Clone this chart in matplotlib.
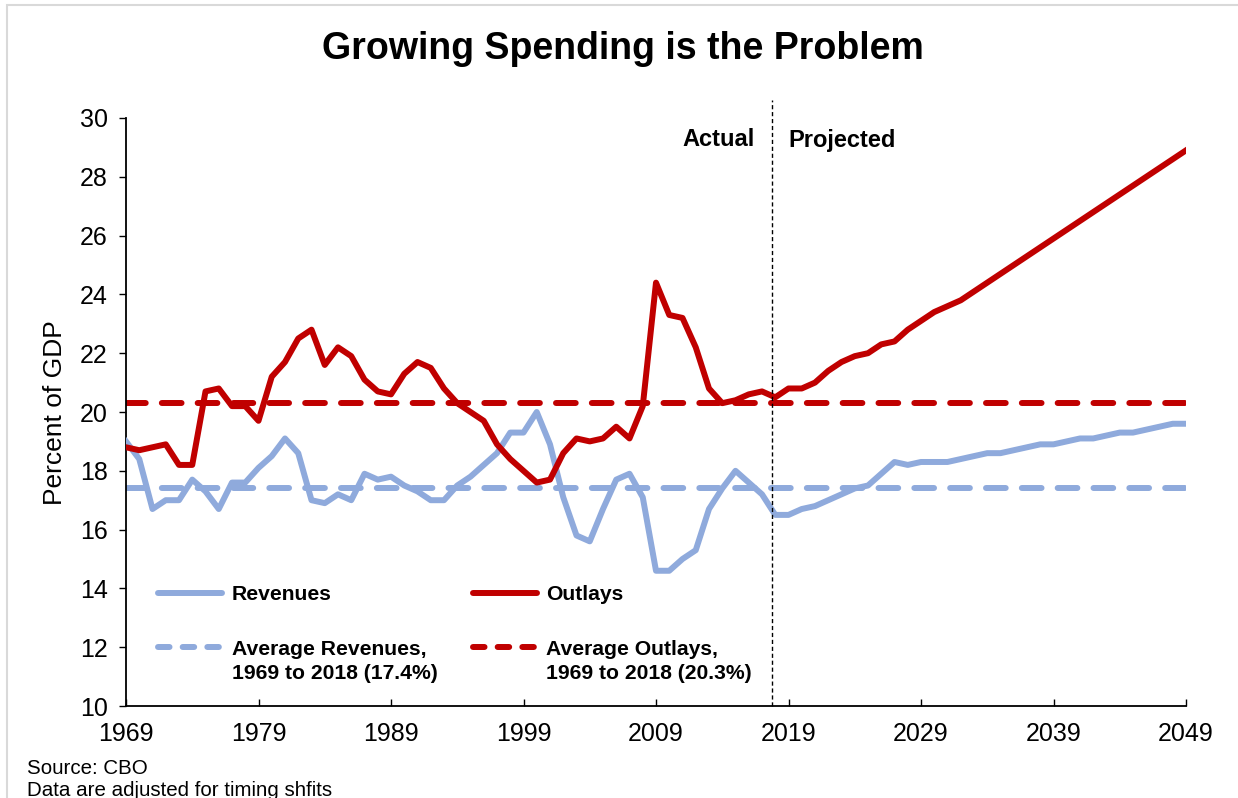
import matplotlib
matplotlib.use("Agg")
import matplotlib.pyplot as plt
from matplotlib.lines import Line2D
from matplotlib.patches import Rectangle
import numpy as np

plt.rcParams['font.family'] = ['Liberation Sans', 'DejaVu Sans']

# Fiscal years shown on the axis
years = np.arange(1969, 2050)

# Federal revenues, percent of GDP (actual 1969-2018, projected 2019-2049)
revenues = [
    19.0, 18.4, 16.7, 17.0, 17.0, 17.7, 17.3, 16.7, 17.6, 17.6,
    18.1, 18.5, 19.1, 18.6, 17.0, 16.9, 17.2, 17.0, 17.9, 17.7,
    17.8, 17.5, 17.3, 17.0, 17.0, 17.5, 17.8, 18.2, 18.6, 19.3,
    19.3, 20.0, 18.9, 17.1, 15.8, 15.6, 16.7, 17.7, 17.9, 17.1,
    14.6, 14.6, 15.0, 15.3, 16.7, 17.4, 18.0, 17.6, 17.2, 16.5,
    16.5, 16.7, 16.8, 17.0, 17.2, 17.4, 17.5, 17.9, 18.3, 18.2,
    18.3, 18.3, 18.3, 18.4, 18.5, 18.6, 18.6, 18.7, 18.8, 18.9,
    18.9, 19.0, 19.1, 19.1, 19.2, 19.3, 19.3, 19.4, 19.5, 19.6,
    19.6,
]

# Federal outlays, percent of GDP (actual 1969-2018, projected 2019-2049)
outlays = [
    18.8, 18.7, 18.8, 18.9, 18.2, 18.2, 20.7, 20.8, 20.2, 20.2,
    19.7, 21.2, 21.7, 22.5, 22.8, 21.6, 22.2, 21.9, 21.1, 20.7,
    20.6, 21.3, 21.7, 21.5, 20.8, 20.3, 20.0, 19.7, 18.9, 18.4,
    18.0, 17.6, 17.7, 18.6, 19.1, 19.0, 19.1, 19.5, 19.1, 20.2,
    24.4, 23.3, 23.2, 22.2, 20.8, 20.3, 20.4, 20.6, 20.7, 20.5,
    20.8, 20.8, 21.0, 21.4, 21.7, 21.9, 22.0, 22.3, 22.4, 22.8,
    23.1, 23.4, 23.6, 23.8, 24.1, 24.4, 24.7, 25.0, 25.3, 25.6,
    25.9, 26.2, 26.5, 26.8, 27.1, 27.4, 27.7, 28.0, 28.3, 28.6,
    28.9,
]

# 1969-2018 averages
avg_revenues = 17.4
avg_outlays = 20.3

x_ticks = [1969, 1979, 1989, 1999, 2009, 2019, 2029, 2039, 2049]
y_ticks = [10, 12, 14, 16, 18, 20, 22, 24, 26, 28, 30]
split_year = 2017.75

legend_labels = ["Revenues", "Outlays",
                 "Average Revenues,\n1969 to 2018 (17.4%)",
                 "Average Outlays,\n1969 to 2018 (20.3%)"]

BLUE = "#8FAADC"
RED = "#C00000"

W, H = 1238, 798
fig = plt.figure(figsize=(W / 100, H / 100), dpi=100)
ax = fig.add_axes([126 / W, (H - 706) / H, 1060 / W, 588 / H])


def px(x, y):
    return x / W, 1 - y / H


LW = 4.3
ax.plot(years, revenues, color=BLUE, lw=LW, solid_joinstyle='round', zorder=3)
ax.plot(years, outlays, color=RED, lw=LW, solid_joinstyle='round', zorder=4)
ax.plot([years[0], years[-1]], [avg_revenues, avg_revenues], color=BLUE, lw=LW,
        linestyle=(0, (3.3, 2.7)), dash_capstyle='round', zorder=2)
ax.plot([years[0], years[-1]], [avg_outlays, avg_outlays], color=RED, lw=LW,
        linestyle=(0, (3.3, 2.7)), dash_capstyle='round', zorder=2)

# Divider between actual and projected years
ax.plot([split_year, split_year], [10, 30.6], color='black', lw=1.0,
        linestyle=(0, (3, 2)), clip_on=False, zorder=5)

ax.set_xlim(1969, 2049)
ax.set_ylim(10, 30)
ax.set_xticks(x_ticks)
ax.set_yticks(y_ticks)
ax.set_xticklabels([str(v) for v in x_ticks])
ax.set_yticklabels([str(v) for v in y_ticks])
ax.tick_params(axis='x', direction='in', length=5, width=1, labelsize=18, pad=11.5)
ax.tick_params(axis='y', direction='out', length=5, width=1, labelsize=18, pad=8)
for s in ['top', 'right']:
    ax.spines[s].set_visible(False)
for s in ['left', 'bottom']:
    ax.spines[s].set_linewidth(1.3)
    ax.spines[s].set_color('black')

# Legend drawn inside the plot area
fig.add_artist(Line2D([158 / W, 222 / W], [1 - 593 / H] * 2, color=BLUE, lw=LW,
                      solid_capstyle='round'))
fig.add_artist(Line2D([473 / W, 537 / W], [1 - 593 / H] * 2, color=RED, lw=LW,
                      solid_capstyle='round'))
fig.add_artist(Line2D([158 / W, 220 / W], [1 - 647 / H] * 2, color=BLUE, lw=LW,
                      linestyle=(0, (1.93, 2.2)), dash_capstyle='round'))
fig.add_artist(Line2D([473 / W, 535 / W], [1 - 647 / H] * 2, color=RED, lw=LW,
                      linestyle=(0, (1.93, 2.2)), dash_capstyle='round'))
fig.text(*px(232, 595), legend_labels[0], fontsize=15.2, fontweight='bold', va='center')
fig.text(*px(546, 595), legend_labels[1], fontsize=15.2, fontweight='bold', va='center')
fig.text(*px(232, 640), legend_labels[2], fontsize=15.2, fontweight='bold', va='top',
         linespacing=1.36)
fig.text(*px(546, 640), legend_labels[3], fontsize=15.2, fontweight='bold', va='top',
         linespacing=1.36)

fig.text(*px(755, 140), "Actual", fontsize=17, fontweight='bold', ha='right', va='center')
fig.text(*px(788, 140), "Projected", fontsize=17, fontweight='bold', ha='left', va='center')

fig.text(*px(623, 49), "Growing Spending is the Problem", fontsize=27,
         fontweight='bold', ha='center', va='center')
fig.text(*px(55, 413), "Percent of GDP", fontsize=19, rotation=90,
         ha='center', va='center')

fig.text(*px(27, 769), "Source: CBO", fontsize=14.8, ha='left', va='center')
fig.text(*px(27, 781), "Data are adjusted for timing shfits", fontsize=14.8,
         ha='left', va='top')

# Chart-area frame
fig.add_artist(Rectangle((7 / W, -0.1), 2.0, 1.1 - 5 / H, transform=fig.transFigure,
                         fill=False, edgecolor='#D9D9D9', lw=1.5))

fig.savefig("out.png", dpi=100)
